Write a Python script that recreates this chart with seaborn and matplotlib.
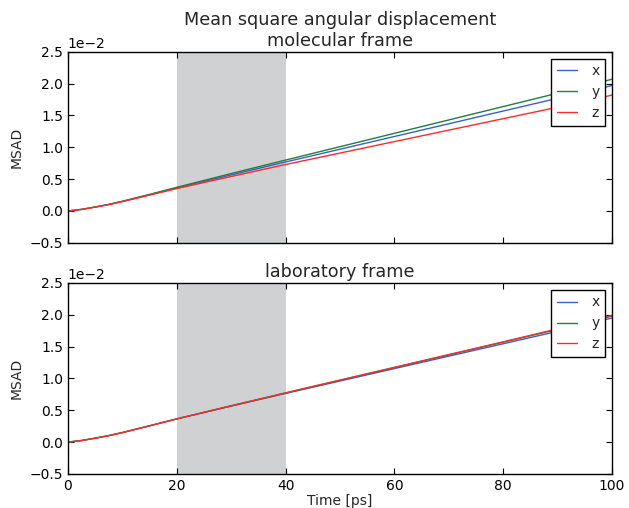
import numpy as np
import pandas as pd
import matplotlib
matplotlib.use("Agg")
import matplotlib.pyplot as plt
import seaborn as sns
from matplotlib.ticker import ScalarFormatter

# ---------------- data (MSAD in units of 1e-2) ----------------
time_ps = [0, 2.5, 5, 7.5, 10, 15, 20, 30, 40, 50, 60, 70, 80, 90, 100]

mol_x = [0, 0.025, 0.062, 0.102, 0.150, 0.255, 0.362, 0.567, 0.770, 0.970, 1.170, 1.370, 1.570, 1.770, 1.970]
mol_y = [0, 0.025, 0.063, 0.104, 0.153, 0.261, 0.372, 0.588, 0.800, 1.010, 1.220, 1.430, 1.640, 1.850, 2.070]
mol_z = [0, 0.024, 0.061, 0.100, 0.147, 0.250, 0.352, 0.542, 0.730, 0.910, 1.090, 1.270, 1.450, 1.630, 1.820]

lab_x = [0, 0.025, 0.062, 0.102, 0.150, 0.256, 0.364, 0.566, 0.765, 0.960, 1.155, 1.350, 1.545, 1.740, 1.950]
lab_y = [0, 0.025, 0.062, 0.102, 0.150, 0.256, 0.365, 0.569, 0.770, 0.970, 1.170, 1.370, 1.570, 1.770, 1.980]
lab_z = [0, 0.025, 0.062, 0.102, 0.150, 0.257, 0.366, 0.572, 0.775, 0.975, 1.175, 1.375, 1.575, 1.780, 1.990]

axes_labels = ["x", "y", "z"]
colors = ["#3a5fcd", "#1e8040", "#ff2a2a"]
shade = (20, 40)


def to_long(xs, ys, zs):
    frames = []
    for name, vals in zip(axes_labels, [xs, ys, zs]):
        frames.append(pd.DataFrame({"time": time_ps,
                                    "msad": np.array(vals) * 1e-2,
                                    "axis": name}))
    return pd.concat(frames, ignore_index=True)


df_mol = to_long(mol_x, mol_y, mol_z)
df_lab = to_long(lab_x, lab_y, lab_z)

# ---------------- style ----------------
sns.set_style("ticks")
plt.rcParams["font.family"] = ["DejaVu Sans"]
plt.rcParams.update({
    "xtick.direction": "in", "ytick.direction": "in",
    "xtick.top": True, "ytick.right": True,
    "xtick.major.size": 4, "ytick.major.size": 4,
    "axes.linewidth": 1.0, "axes.edgecolor": "black",
    "xtick.color": "black", "ytick.color": "black",
    "font.size": 10,
})

fig, (ax1, ax2) = plt.subplots(2, 1, figsize=(6.29, 5.08), dpi=100, sharex=True)
fig.subplots_adjust(left=0.108, right=0.973, top=0.898, bottom=0.067, hspace=0.21)

for ax, df, title in [(ax1, df_mol, "Mean square angular displacement\nmolecular frame"),
                      (ax2, df_lab, "laboratory frame")]:
    ax.axvspan(shade[0], shade[1], color="#d0d1d3", lw=0, zorder=0)
    sns.lineplot(data=df, x="time", y="msad", hue="axis", hue_order=axes_labels,
                 palette=colors, lw=1.0, legend=False, ax=ax)
    ax.set_xlim(0, 100)
    ax.set_ylim(-0.005, 0.025)
    ax.set_xticks([0, 20, 40, 60, 80, 100])
    ax.set_yticks(np.arange(-0.005, 0.0251, 0.005))
    fmt = ScalarFormatter(useMathText=False)
    fmt.set_powerlimits((-1, 1))
    ax.yaxis.set_major_formatter(fmt)
    ax.set_ylabel("MSAD", fontsize=10)
    ax.set_xlabel("")
    ax.set_title(title, fontsize=12.7, pad=4)
    ax.tick_params(labelsize=10)
    leg = ax.legend(ax.lines[:3], axes_labels, loc="upper right", fontsize=10,
                    fancybox=False, framealpha=1, edgecolor="black",
                    handlelength=1.5, handletextpad=1.0, borderaxespad=0.5)
    leg.get_frame().set_linewidth(1.0)

ax2.set_xlabel("Time [ps]", fontsize=10, labelpad=1)

fig.savefig("out.png", dpi=100)
